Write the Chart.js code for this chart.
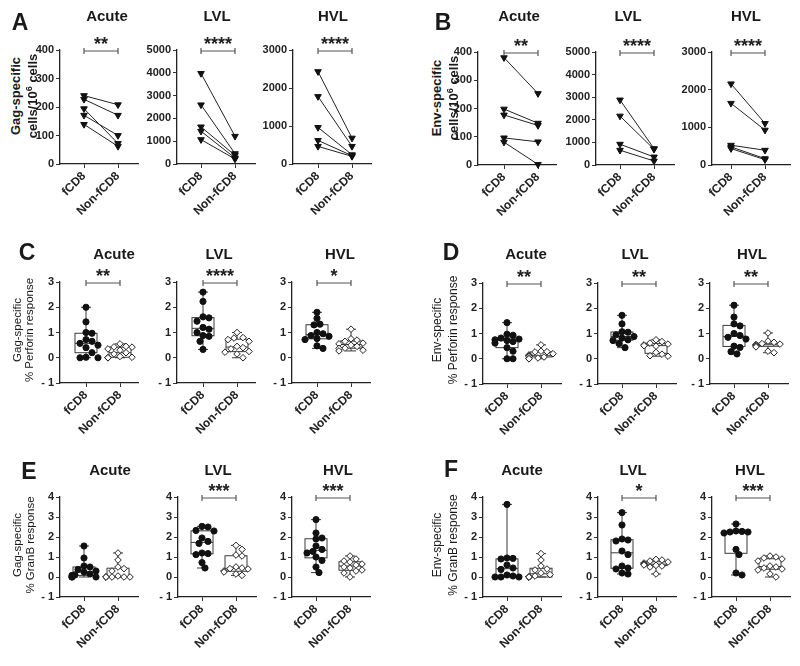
<!DOCTYPE html>
<html lang="en">
<head>
  <meta charset="UTF-8">
  <title>fCD8 vs Non-fCD8 responses</title>
  <script src="https://cdn.jsdelivr.net/npm/chart.js"></script>
  <style>
    body { margin: 0; background: #fff; font-family: "Liberation Sans", Arial, sans-serif; }
    #fig { position: relative; width: 800px; height: 666px; overflow: hidden; background: #fff; }
    #fig canvas { position: absolute; }
    .lbl { position: absolute; color: #1a1a1a; white-space: nowrap; z-index: 2; line-height: 1; }
    .letter { font-weight: bold; font-size: 23px; transform: translate(-50%, -50%); }
    .col { font-weight: bold; font-size: 15px; transform: translate(-50%, -50%); }
    .ytl { transform: translate(-50%, -50%) rotate(-90deg); }
    .ytl sup { font-size: 70%; vertical-align: 0.45em; }
  </style>
</head>
<body>
<div id="fig"></div>
<script>
  const groups = ['fCD8', 'Non-fCD8'];
  const columns = ['Acute', 'LVL', 'HVL'];

  // A - Gag-specific cells/10^6 cells, paired by donor
  const gagCellsAcuteF = [240, 227, 194, 171, 139];
  const gagCellsAcuteN = [208, 171, 72, 100, 62];
  const gagCellsLvlF = [3974, 2595, 1628, 1437, 1070];
  const gagCellsLvlN = [1217, 455, 380, 264, 220];
  const gagCellsHvlF = [2432, 1776, 962, 621, 464];
  const gagCellsHvlN = [682, 464, 245, 219, 201];

  // B - Env-specific cells/10^6 cells, paired by donor
  const envCellsAcuteF = [380, 198, 177, 96, 81];
  const envCellsAcuteN = [253, 148, 140, 82, 2];
  const envCellsLvlF = [2878, 2166, 920, 653];
  const envCellsLvlN = [727, 697, 356, 178];
  const envCellsHvlF = [2155, 1638, 525, 480, 436];
  const envCellsHvlN = [1104, 926, 392, 169, 142];

  // C - Gag-specific % Perforin response
  const gagPerfAcuteF = [2.0, 1.42, 1.0, 0.97, 0.72, 0.65, 0.57, 0.5, 0.4, 0.2, 0.02, 0, 0];
  const gagPerfAcuteN = [0.55, 0.45, 0.43, 0.42, 0.35, 0.3, 0.2, 0.15, 0.05, 0.02, 0, 0, 0];
  const gagPerfLvlF = [2.6, 2.23, 1.62, 1.58, 1.45, 1.2, 1.13, 1.0, 0.88, 0.85, 0.65, 0.33];
  const gagPerfLvlN = [1.0, 0.8, 0.78, 0.72, 0.65, 0.45, 0.4, 0.35, 0.25, 0.22, 0.15, 0];
  const gagPerfHvlF = [1.8, 1.56, 1.33, 1.3, 1.0, 0.95, 0.88, 0.85, 0.76, 0.72, 0.47, 0.37];
  const gagPerfHvlN = [1.13, 0.75, 0.7, 0.65, 0.58, 0.55, 0.5, 0.45, 0.38, 0.37, 0.3, 0.27];

  // D - Env-specific % Perforin response
  const envPerfAcuteF = [1.43, 0.97, 0.93, 0.82, 0.78, 0.75, 0.72, 0.68, 0.62, 0.44, 0.3, 0, 0];
  const envPerfAcuteN = [0.55, 0.3, 0.28, 0.27, 0.2, 0.15, 0.12, 0.1, 0.08, 0.07, 0.03, 0, 0];
  const envPerfLvlF = [1.72, 1.38, 1.07, 1.05, 0.95, 0.88, 0.82, 0.75, 0.72, 0.6, 0.44];
  const envPerfLvlN = [0.75, 0.68, 0.62, 0.58, 0.55, 0.52, 0.5, 0.25, 0.18, 0.12, 0.1];
  const envPerfHvlF = [2.12, 1.65, 1.38, 1.3, 1.0, 0.92, 0.85, 0.78, 0.5, 0.45, 0.28, 0.19];
  const envPerfHvlN = [1.02, 0.7, 0.65, 0.6, 0.58, 0.56, 0.55, 0.52, 0.5, 0.47, 0.3, 0.24];

  // E - Gag-specific % GranB response
  const gagGranAcuteF = [1.55, 0.95, 0.55, 0.5, 0.38, 0.3, 0.25, 0.15, 0.1, 0.08, 0, 0, 0];
  const gagGranAcuteN = [1.2, 0.85, 0.5, 0.42, 0.3, 0.05, 0, 0, 0, 0, 0, 0];
  const gagGranLvlF = [2.53, 2.5, 2.33, 2.3, 1.95, 1.78, 1.68, 1.2, 1.17, 1.12, 0.72, 0.45];
  const gagGranLvlN = [1.58, 1.38, 1.1, 1.05, 0.5, 0.45, 0.42, 0.4, 0.3, 0.25, 0.15, 0.08];
  const gagGranHvlF = [2.87, 2.2, 1.95, 1.9, 1.55, 1.38, 1.28, 1.2, 1.0, 0.83, 0.5, 0.22];
  const gagGranHvlN = [1.05, 0.9, 0.8, 0.75, 0.65, 0.6, 0.5, 0.45, 0.35, 0.3, 0.2, 0];

  // F - Env-specific % GranB response
  const envGranAcuteF = [3.63, 0.95, 0.93, 0.9, 0.6, 0.45, 0.38, 0.1, 0.05, 0, 0, 0];
  const envGranAcuteN = [1.17, 0.85, 0.55, 0.4, 0.35, 0.2, 0.12, 0.05, 0, 0, 0, 0];
  const envGranLvlF = [3.22, 2.6, 1.9, 1.85, 1.8, 1.3, 1.12, 0.55, 0.45, 0.4, 0.2, 0.15];
  const envGranLvlN = [0.88, 0.85, 0.8, 0.75, 0.7, 0.65, 0.63, 0.6, 0.58, 0.55, 0.5, 0.15];
  const envGranHvlF = [2.65, 2.3, 2.28, 2.25, 2.25, 2.2, 1.38, 1.12, 0.2, 0.1];
  const envGranHvlN = [1.05, 1.0, 0.95, 0.9, 0.8, 0.55, 0.5, 0.45, 0.4, 0.35, 0.15, 0];

  // y tick labels
  const ticksCells = [[0, 100, 200, 300, 400], [0, 1000, 2000, 3000, 4000, 5000], [0, 1000, 2000, 3000]];
  const ticksPerf = [-1, 0, 1, 2, 3];
  const ticksGran = [-1, 0, 1, 2, 3, 4];

  const rows = [
    { letter: 'A', kind: 'paired', yTitle: ['Gag-specific', 'cells/10<sup>6</sup> cells'],
      sets: [[gagCellsAcuteF, gagCellsAcuteN], [gagCellsLvlF, gagCellsLvlN], [gagCellsHvlF, gagCellsHvlN]],
      ticks: ticksCells, stars: ['**', '****', '****'] },
    { letter: 'B', kind: 'paired', yTitle: ['Env-specific', 'cells/10<sup>6</sup> cells'],
      sets: [[envCellsAcuteF, envCellsAcuteN], [envCellsLvlF, envCellsLvlN], [envCellsHvlF, envCellsHvlN]],
      ticks: ticksCells, stars: ['**', '****', '****'] },
    { letter: 'C', kind: 'box', yTitle: ['Gag-specific', '% Perforin response'],
      sets: [[gagPerfAcuteF, gagPerfAcuteN], [gagPerfLvlF, gagPerfLvlN], [gagPerfHvlF, gagPerfHvlN]],
      ticks: [ticksPerf, ticksPerf, ticksPerf], stars: ['**', '****', '*'] },
    { letter: 'D', kind: 'box', yTitle: ['Env-specific', '% Perforin response'],
      sets: [[envPerfAcuteF, envPerfAcuteN], [envPerfLvlF, envPerfLvlN], [envPerfHvlF, envPerfHvlN]],
      ticks: [ticksPerf, ticksPerf, ticksPerf], stars: ['**', '**', '**'] },
    { letter: 'E', kind: 'box', yTitle: ['Gag-specific', '% GranB response'],
      sets: [[gagGranAcuteF, gagGranAcuteN], [gagGranLvlF, gagGranLvlN], [gagGranHvlF, gagGranHvlN]],
      ticks: [ticksGran, ticksGran, ticksGran], stars: ['', '***', '***'] },
    { letter: 'F', kind: 'box', yTitle: ['Env-specific', '% GranB response'],
      sets: [[envGranAcuteF, envGranAcuteN], [envGranLvlF, envGranLvlN], [envGranHvlF, envGranHvlN]],
      ticks: [ticksGran, ticksGran, ticksGran], stars: ['', '*', '***'] }
  ];

  // where each row sits on the page (pixels)
  const placement = {
    A: { top: 50, bottom: 164, axisX: [60, 177, 293], cat1: [24, 24, 25], titleY: 15, titleX: [107, 217, 333],
         letterXY: [20, 22], yTitleX: [15, 32], yTitleY: 96, yTitleSize: 13, yTitleBold: true },
    B: { top: 52, bottom: 165, axisX: [478, 596, 712], cat1: [26, 24, 19], titleY: 15, titleX: [519, 628, 746],
         letterXY: [443, 22], yTitleX: [436, 453], yTitleY: 98, yTitleSize: 13, yTitleBold: true },
    C: { top: 282, bottom: 383, axisX: [60, 177, 292], cat1: [26, 26, 25], titleY: 253, titleX: [114, 219, 340],
         letterXY: [27, 252], yTitleX: [18, 30], yTitleY: 330, yTitleSize: 11.5 },
    D: { top: 283, bottom: 384, axisX: [483, 598, 710], cat1: [24, 24, 24], titleY: 253, titleX: [526, 635, 752],
         letterXY: [451, 252], yTitleX: [437, 453], yTitleY: 330, yTitleSize: 12 },
    E: { top: 497, bottom: 597, axisX: [60, 178, 292], cat1: [24, 24, 24], titleY: 469, titleX: [110, 218, 338],
         letterXY: [29, 471], yTitleX: [18, 31], yTitleY: 545, yTitleSize: 11.5 },
    F: { top: 497, bottom: 597, axisX: [483, 598, 712], cat1: [24, 24, 24], titleY: 469, titleX: [522, 633, 750],
         letterXY: [451, 469], yTitleX: [437, 453], yTitleY: 545, yTitleSize: 12 }
  };

  const PLOT_W = 78, PAD_TOP = 26, AXIS_W = 34, AXIS_H = 66, PAD_RIGHT = 4, CAT_GAP = 34;
  const INK = '#222';

  Chart.defaults.font.family = '"Liberation Sans", Arial, sans-serif';
  Chart.defaults.color = INK;

  const fig = document.getElementById('fig');

  function addText(cls, html, x, y, size, bold) {
    const d = document.createElement('div');
    d.className = 'lbl ' + cls;
    d.innerHTML = html;
    d.style.left = x + 'px';
    d.style.top = y + 'px';
    if (size) d.style.fontSize = size + 'px';
    if (bold) d.style.fontWeight = 'bold';
    fig.appendChild(d);
  }

  function quantile(sorted, p) {
    const pos = (sorted.length - 1) * p;
    const lo = Math.floor(pos), hi = Math.ceil(pos);
    return sorted[lo] + (sorted[hi] - sorted[lo]) * (pos - lo);
  }

  function boxStats(values) {
    const s = [...values].sort((a, b) => a - b);
    return { min: s[0], q1: quantile(s, 0.25), med: quantile(s, 0.5), q3: quantile(s, 0.75), max: s[s.length - 1] };
  }

  // spread points sideways so they don't pile up (simple beeswarm)
  function swarm(values, center, pxPerY) {
    const order = values.map((v, i) => i).sort((a, b) => values[b] - values[a]);
    const placed = [];
    const xs = [];
    order.forEach(i => {
      const py = values[i] * pxPerY;
      let dx = 0;
      for (let k = 0; k < 9; k++) {
        const cand = k === 0 ? 0 : (k % 2 ? 1 : -1) * Math.ceil(k / 2) * 3;
        dx = cand;
        if (placed.every(p => Math.hypot(p.x - cand, p.y - py) >= 6)) break;
      }
      placed.push({ x: dx, y: py });
      xs[i] = center + dx / CAT_GAP;
    });
    return values.map((v, i) => ({ x: xs[i], y: v }));
  }

  function decorPlugin(boxSets, stars) {
    return {
      id: 'decor',
      beforeDatasetsDraw(chart) {
        const { ctx, scales: { x, y } } = chart;
        boxSets.forEach((vals, i) => {
          const s = boxStats(vals);
          const cx = x.getPixelForValue(i + 1);
          const p = v => y.getPixelForValue(v);
          ctx.save();
          ctx.strokeStyle = '#3a3a3a';
          ctx.lineWidth = 1;
          ctx.beginPath();
          ctx.moveTo(cx, p(s.max)); ctx.lineTo(cx, p(s.q3));
          ctx.moveTo(cx, p(s.q1)); ctx.lineTo(cx, p(s.min));
          ctx.moveTo(cx - 5, p(s.max)); ctx.lineTo(cx + 5, p(s.max));
          ctx.moveTo(cx - 5, p(s.min)); ctx.lineTo(cx + 5, p(s.min));
          ctx.moveTo(cx - 11, p(s.med)); ctx.lineTo(cx + 11, p(s.med));
          ctx.stroke();
          ctx.strokeRect(cx - 11, p(s.q3), 22, p(s.q1) - p(s.q3));
          ctx.restore();
        });
      },
      afterDatasetsDraw(chart) {
        if (!stars) return;
        const { ctx, chartArea, scales: { x } } = chart;
        const x1 = x.getPixelForValue(1), x2 = x.getPixelForValue(2);
        const yb = chartArea.top + 1;
        ctx.save();
        ctx.strokeStyle = '#555';
        ctx.lineWidth = 1.2;
        ctx.beginPath();
        ctx.moveTo(x1, yb); ctx.lineTo(x2, yb);
        ctx.moveTo(x1, yb - 3); ctx.lineTo(x1, yb + 3);
        ctx.moveTo(x2, yb - 3); ctx.lineTo(x2, yb + 3);
        ctx.stroke();
        ctx.fillStyle = INK;
        ctx.font = 'bold 18px "Liberation Sans", Arial, sans-serif';
        ctx.textAlign = 'center';
        ctx.textBaseline = 'alphabetic';
        ctx.fillText(stars, (x1 + x2) / 2, yb - 1);
        ctx.restore();
      }
    };
  }

  function makePanel(row, pos, col) {
    const [fVals, nVals] = row.sets[col];
    const tickVals = row.ticks[col];
    const yMin = tickVals[0], yMax = tickVals[tickVals.length - 1];
    const plotH = pos.bottom - pos.top;
    const xMin = 1 - pos.cat1[col] / CAT_GAP;

    const canvas = document.createElement('canvas');
    canvas.width = AXIS_W + PLOT_W + PAD_RIGHT;
    canvas.height = PAD_TOP + plotH + AXIS_H;
    canvas.style.left = (pos.axisX[col] - AXIS_W) + 'px';
    canvas.style.top = (pos.top - PAD_TOP) + 'px';
    fig.appendChild(canvas);

    let datasets;
    if (row.kind === 'paired') {
      datasets = fVals.map((v, i) => ({
        data: [{ x: 1, y: v }, { x: 2, y: nVals[i] }],
        showLine: true,
        borderColor: INK,
        borderWidth: 1,
        pointStyle: 'triangle',
        pointRotation: 180,
        pointRadius: 3.8,
        pointBackgroundColor: '#111',
        pointBorderColor: '#111',
        clip: false
      }));
    } else {
      const pxPerY = plotH / (yMax - yMin);
      datasets = [
        { label: groups[0], data: swarm(fVals, 1, pxPerY), pointStyle: 'circle', pointRadius: 3.1,
          pointBackgroundColor: '#111', pointBorderColor: '#111', pointBorderWidth: 1, clip: false },
        { label: groups[1], data: swarm(nVals, 2, pxPerY), pointStyle: 'rectRot', pointRadius: 3.3,
          pointBackgroundColor: '#fff', pointBorderColor: INK, pointBorderWidth: 1, clip: false }
      ];
    }

    const axisGrid = { drawOnChartArea: false, drawTicks: true, tickLength: 4, color: '#333', lineWidth: 1 };
    const axisBorder = { display: true, color: '#222', width: 1.3 };

    new Chart(canvas, {
      type: 'scatter',
      data: { datasets },
      options: {
        responsive: false,
        animation: false,
        events: [],
        layout: { autoPadding: false, padding: { top: PAD_TOP, right: PAD_RIGHT, left: 0, bottom: 0 } },
        plugins: { legend: { display: false }, tooltip: { enabled: false } },
        scales: {
          x: {
            type: 'linear', min: xMin, max: xMin + PLOT_W / CAT_GAP,
            afterBuildTicks: s => { s.ticks = [{ value: 1 }, { value: 2 }]; },
            afterFit: s => { s.height = AXIS_H; },
            ticks: { autoSkip: false, minRotation: 45, maxRotation: 45, padding: 1,
                     font: { size: 12, weight: 'bold' }, color: INK,
                     callback: v => groups[v - 1] },
            grid: axisGrid, border: axisBorder
          },
          y: {
            min: yMin, max: yMax,
            afterBuildTicks: s => { s.ticks = tickVals.map(v => ({ value: v })); },
            afterFit: s => { s.width = AXIS_W; },
            ticks: { padding: 2, font: { size: 11, weight: 'bold' }, color: INK,
                     callback: v => (v < 0 ? '- ' + Math.abs(v) : String(v)) },
            grid: axisGrid, border: axisBorder
          }
        }
      },
      plugins: [decorPlugin(row.kind === 'box' ? [fVals, nVals] : [], row.stars[col])]
    });
  }

  rows.forEach(row => {
    const pos = placement[row.letter];
    addText('letter', row.letter, pos.letterXY[0], pos.letterXY[1]);
    columns.forEach((c, i) => addText('col', c, pos.titleX[i], pos.titleY));
    row.yTitle.forEach((t, i) => addText('ytl', t, pos.yTitleX[i], pos.yTitleY, pos.yTitleSize, pos.yTitleBold));
    columns.forEach((c, i) => makePanel(row, pos, i));
  });
</script>
</body>
</html>
